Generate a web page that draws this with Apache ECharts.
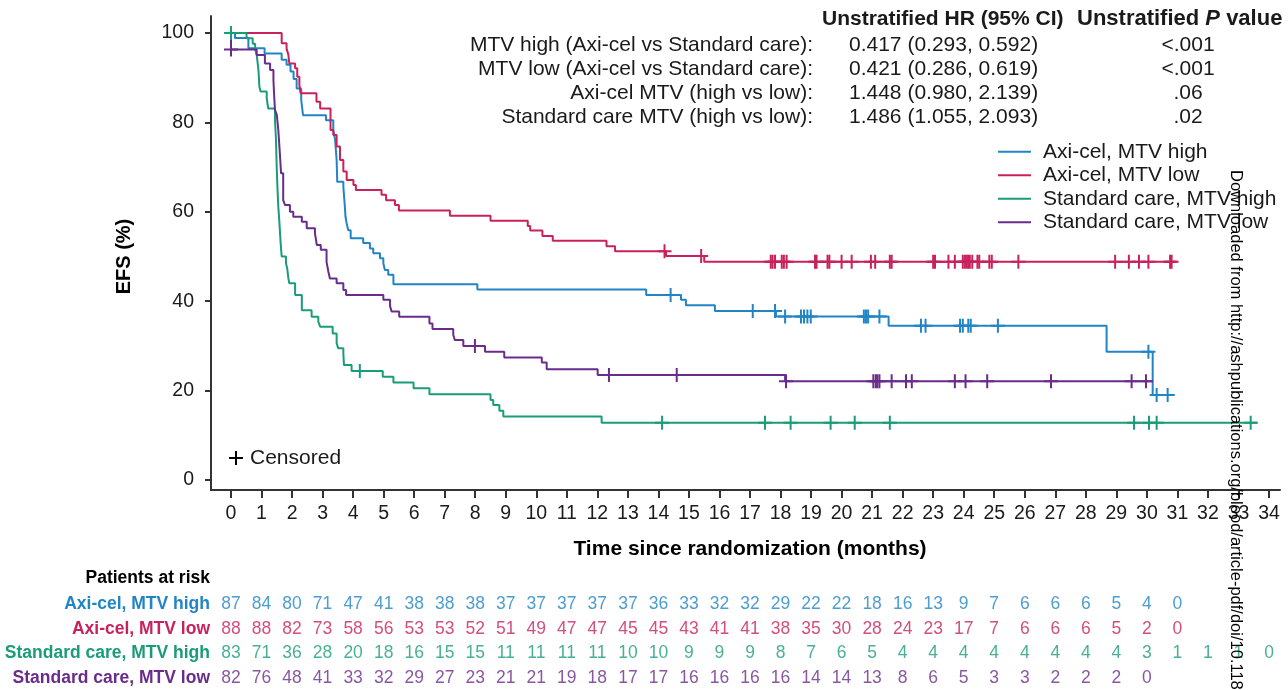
<!DOCTYPE html>
<html>
<head>
<meta charset="utf-8">
<script src="https://cdn.jsdelivr.net/npm/echarts@6/dist/echarts.min.js"></script>
<style>
  html, body { margin: 0; padding: 0; background: #fff; }
  #chart { width: 1288px; height: 690px; }
</style>
</head>
<body>
<div id="chart"></div>
<script>
// ---- Group names and colours ----
const groupNames = ['Axi-cel, MTV high', 'Axi-cel, MTV low', 'Standard care, MTV high', 'Standard care, MTV low'];
const groupColors = ['#2185c5', '#c8215d', '#1a9c79', '#6a2c8c'];

// ---- Kaplan-Meier steps: [month, EFS %] (value after each drop; last point = end of follow-up) ----
const axiHighSteps = [
  [0, 100], [0.13, 98.9], [0.57, 96.6], [1.1, 95.4], [1.66, 94.0], [1.82, 92.9], [1.95, 91.4],
  [2.05, 89.7], [2.15, 87.6], [2.3, 85.0], [2.36, 81.6], [3.11, 80.5], [3.35, 78.3], [3.41, 76.1],
  [3.46, 71.6], [3.48, 66.7], [3.68, 65.6], [3.73, 61.1], [3.75, 58.9], [3.79, 57.4], [3.84, 55.9],
  [3.92, 54.1], [4.33, 53.0], [4.55, 51.8], [4.66, 50.7], [4.88, 49.6], [4.99, 48.5], [5.04, 47.0],
  [5.15, 45.9], [5.32, 43.8], [8.07, 42.6], [13.6, 41.4], [14.74, 40.3], [14.9, 39.1], [15.85, 37.8],
  [17.85, 36.6], [21.54, 34.5], [28.68, 28.7], [30.19, 19.0], [30.9, 19.0]
];
const axiLowSteps = [
  [0, 100], [1.66, 97.7], [1.82, 96.5], [1.88, 95.1], [1.91, 93.2], [2.1, 92.1], [2.17, 90.2],
  [2.24, 88.4], [2.28, 86.5], [2.8, 84.6], [2.92, 83.1], [3.26, 78.3], [3.35, 77.2], [3.46, 74.6],
  [3.57, 71.6], [3.68, 69.0], [3.79, 67.1], [4.01, 66.0], [4.09, 64.9], [4.93, 63.8], [5.08, 62.6],
  [5.37, 61.5], [5.5, 60.3], [7.17, 59.1], [8.5, 58.0], [9.72, 56.8], [9.8, 55.8], [10.2, 54.6],
  [10.54, 53.5], [12.3, 52.3], [12.58, 51.2], [14.25, 50.1], [15.5, 48.8], [30.95, 48.8]
];
const socHighSteps = [
  [0, 100], [0.51, 98.8], [0.71, 97.6], [0.79, 96.4], [0.84, 95.2], [0.9, 91.7], [0.93, 88.0],
  [0.97, 86.9], [1.17, 85.4], [1.22, 83.1], [1.44, 80.5], [1.47, 76.8], [1.5, 69.4], [1.52, 65.6],
  [1.55, 61.1], [1.58, 58.2], [1.6, 55.9], [1.63, 52.6], [1.66, 50.0], [1.8, 48.5], [1.84, 47.4],
  [1.88, 45.1], [1.91, 44.0], [2.1, 41.4], [2.32, 38.0], [2.64, 36.5], [2.86, 35.4], [2.92, 34.3],
  [3.33, 32.8], [3.46, 30.6], [3.51, 29.5], [3.68, 28.3], [3.7, 25.7], [3.95, 24.4], [4.97, 23.1],
  [5.32, 21.8], [5.98, 20.5], [6.5, 19.2], [8.5, 17.9], [8.59, 16.8], [8.79, 15.5], [8.92, 14.2],
  [12.14, 12.8], [33.62, 12.8]
];
const socLowSteps = [
  [0, 100], [0, 96.3], [0.84, 95.1], [1.11, 93.2], [1.28, 91.7], [1.39, 89.5], [1.41, 86.5],
  [1.44, 82.8], [1.5, 81.7], [1.55, 78.3], [1.6, 73.1], [1.64, 68.6], [1.71, 62.6], [1.77, 61.5],
  [1.93, 60.0], [2.04, 58.9], [2.32, 57.8], [2.48, 56.3], [2.75, 55.2], [2.81, 52.6], [2.94, 51.5],
  [3.13, 48.8], [3.19, 46.6], [3.24, 45.1], [3.46, 44.0], [3.68, 42.5], [3.77, 41.4], [4.99, 40.3],
  [5.21, 38.9], [5.26, 37.7], [5.51, 36.5], [6.5, 35.0], [6.6, 33.8], [7.28, 32.5], [7.33, 31.3],
  [7.61, 30.0], [8.32, 28.7], [8.95, 27.4], [10.18, 26.3], [10.34, 24.8], [12.01, 23.5],
  [18.15, 22.1], [30.19, 22.1]
];

// ---- Censoring times (months) ----
const axiHighCensor = [14.4, 17.09, 17.82, 18.15, 18.67, 18.77, 18.88, 18.99, 20.73, 20.8, 20.87, 21.24,
  22.6, 22.75, 23.88, 23.97, 24.15, 24.23, 25.12, 30.05, 30.32, 30.68];
const axiLowCensor = [14.2, 15.4, 17.68, 17.74, 17.82, 18.04, 18.11, 18.2, 19.13, 19.18, 19.54, 19.6, 20.0,
  20.33, 20.96, 21.1, 21.58, 21.64, 23.0, 23.06, 23.5, 23.71, 23.97, 24.04, 24.1, 24.15, 24.2, 24.28,
  24.45, 24.51, 24.84, 24.92, 25.79, 28.96, 29.41, 29.74, 30.05, 30.76, 30.81];
const socHighCensor = [0, 4.22, 14.12, 17.49, 18.33, 19.64, 20.43, 21.58, 29.58, 30.07, 30.32, 33.4];
const socLowCensor = [0, 7.99, 12.38, 14.6, 18.18, 21.04, 21.12, 21.17, 21.24, 21.64, 22.11, 22.3, 23.71,
  24.06, 24.77, 26.86, 29.5, 29.97];

// ---- Patients at risk, one value per month from 0 ----
const axiHighAtRisk = [87, 84, 80, 71, 47, 41, 38, 38, 38, 37, 37, 37, 37, 37, 36, 33, 32, 32, 29, 22, 22, 18, 16, 13, 9, 7, 6, 6, 6, 5, 4, 0];
const axiLowAtRisk = [88, 88, 82, 73, 58, 56, 53, 53, 52, 51, 49, 47, 47, 45, 45, 43, 41, 41, 38, 35, 30, 28, 24, 23, 17, 7, 6, 6, 6, 5, 2, 0];
const socHighAtRisk = [83, 71, 36, 28, 20, 18, 16, 15, 15, 11, 11, 11, 11, 10, 10, 9, 9, 9, 8, 7, 6, 5, 4, 4, 4, 4, 4, 4, 4, 4, 3, 1, 1, 1, 0];
const socLowAtRisk = [82, 76, 48, 41, 33, 32, 29, 27, 23, 21, 21, 19, 18, 17, 17, 16, 16, 16, 16, 14, 14, 13, 8, 6, 5, 3, 3, 2, 2, 2, 0];

// ---- Hazard ratio summary ----
const hrLabels = ['MTV high (Axi-cel vs Standard care):', 'MTV low (Axi-cel vs Standard care):',
  'Axi-cel MTV (high vs low):', 'Standard care MTV (high vs low):'];
const hrValues = ['0.417 (0.293, 0.592)', '0.421 (0.286, 0.619)', '1.448 (0.980, 2.139)', '1.486 (1.055, 2.093)'];
const pValues = ['<.001', '<.001', '.06', '.02'];

// ---- Rendering ----
const FONT = '"Liberation Sans", Arial, Helvetica, sans-serif';
const INK = '#1a1a1a';
const AXIS = '#333';

const stepsList = [axiHighSteps, axiLowSteps, socHighSteps, socLowSteps];
const censorList = [axiHighCensor, axiLowCensor, socHighCensor, socLowCensor];
const atRiskList = [axiHighAtRisk, axiLowAtRisk, socHighAtRisk, socLowAtRisk];

// survival level in effect at time t (last step at or before t)
function survivalAt(steps, t) {
  let v = steps[0][1];
  for (const [x, y] of steps) { if (x <= t) v = y; }
  return v;
}

const PLUS = 'path://M6,0H8V6H14V8H8V14H6V8H0V6H6Z';

const series = [];
groupNames.forEach((name, i) => {
  series.push({
    name: name, type: 'line', step: 'end', xAxisIndex: 0, yAxisIndex: 0,
    data: stepsList[i], symbol: 'none', clip: false,
    lineStyle: { color: groupColors[i], width: 2 }, itemStyle: { color: groupColors[i] },
    emphasis: { disabled: true }, z: 3
  });
});
groupNames.forEach((name, i) => {
  series.push({
    name: name + ' (censored)', type: 'scatter', xAxisIndex: 0, yAxisIndex: 0,
    data: censorList[i].map(t => [t, survivalAt(stepsList[i], t)]),
    symbol: PLUS, symbolSize: 14, clip: false,
    itemStyle: { color: groupColors[i], opacity: 1 },
    emphasis: { disabled: true }, z: 4
  });
});
groupNames.forEach((name, i) => {
  series.push({
    name: name + ' (at risk)', type: 'scatter', xAxisIndex: 2, yAxisIndex: 2,
    data: atRiskList[i].map((n, m) => [m, name, n]),
    symbolSize: 1, itemStyle: { color: 'rgba(0,0,0,0)' },
    label: {
      show: true, position: 'inside', formatter: p => String(p.value[2]),
      color: groupColors[i], fontSize: 17.5, fontFamily: FONT
    },
    emphasis: { disabled: true }, silent: true
  });
});

const rowRich = {};
groupColors.forEach((c, i) => {
  rowRich['r' + i] = { color: c, fontWeight: 'bold', fontSize: 17.5, fontFamily: FONT };
});

const graphics = [];
// panel letter
graphics.push({ type: 'text', left: 2, top: -16, style: { text: 'A', font: 'bold 21px ' + FONT, fill: INK } });
// HR table header
graphics.push({ type: 'text', x: 822, y: 19, style: { text: 'Unstratified HR (95% CI)', font: 'bold 21px ' + FONT, fill: INK, textVerticalAlign: 'middle' } });
graphics.push({ type: 'text', x: 1077, y: 19, style: {
  text: '{b|Unstratified }{bi|P}{b| value}', textVerticalAlign: 'middle',
  rich: {
    b: { font: 'bold 22px ' + FONT, fill: INK },
    bi: { font: 'italic bold 22px ' + FONT, fill: INK }
  }
} });
hrLabels.forEach((t, i) => {
  const y = 45 + i * 24;
  graphics.push({ type: 'text', x: 813, y: y, style: { text: t, font: '21px ' + FONT, fill: INK, textAlign: 'right', textVerticalAlign: 'middle' } });
  graphics.push({ type: 'text', x: 849, y: y, style: { text: hrValues[i], font: '21px ' + FONT, fill: INK, textAlign: 'left', textVerticalAlign: 'middle' } });
  graphics.push({ type: 'text', x: 1188, y: y, style: { text: pValues[i], font: '21px ' + FONT, fill: INK, textAlign: 'center', textVerticalAlign: 'middle' } });
});
// censored key
graphics.push({ type: 'line', shape: { x1: 229, y1: 458, x2: 243, y2: 458 }, style: { stroke: '#000', lineWidth: 2 } });
graphics.push({ type: 'line', shape: { x1: 236, y1: 451, x2: 236, y2: 465 }, style: { stroke: '#000', lineWidth: 2 } });
graphics.push({ type: 'text', x: 250, y: 458, style: { text: 'Censored', font: '21px ' + FONT, fill: INK, textVerticalAlign: 'middle' } });
// at-risk heading
graphics.push({ type: 'text', x: 210, y: 578, style: { text: 'Patients at risk', font: 'bold 17.5px ' + FONT, fill: '#000', textAlign: 'right', textVerticalAlign: 'middle' } });
// download stamp along the right edge
graphics.push({ type: 'text', x: 1236, y: 170, rotation: -Math.PI / 2, z: 100, style: {
  text: 'Downloaded from http://ashpublications.org/blood/article-pdf/doi/10.1182/',
  font: '16.5px ' + FONT, fill: '#000', textAlign: 'left', textVerticalAlign: 'middle'
} });

const option = {
  backgroundColor: '#fff',
  animation: false,
  textStyle: { fontFamily: FONT },
  grid: [
    { left: 231, right: 19, top: 33, bottom: 210 },
    { left: 211, right: 8, top: 16, bottom: 200 },
    { left: 231, right: 19, top: 592, height: 103 }
  ],
  xAxis: [
    {
      gridIndex: 0, type: 'value', min: 0, max: 34, interval: 1, offset: 10,
      axisLine: { show: false, onZero: false },
      axisTick: { show: true, length: 8, lineStyle: { color: AXIS, width: 2 } },
      axisLabel: { fontSize: 19.5, color: INK, margin: 14, fontFamily: FONT },
      splitLine: { show: false },
      name: 'Time since randomization (months)', nameLocation: 'middle', nameGap: 49,
      nameTextStyle: { fontSize: 21, fontWeight: 'bold', color: '#000', fontFamily: FONT }
    },
    {
      gridIndex: 1, type: 'value', min: 0, max: 1,
      axisLine: { show: true, onZero: false, lineStyle: { color: AXIS, width: 2 } },
      axisTick: { show: false }, axisLabel: { show: false }, splitLine: { show: false }
    },
    { gridIndex: 2, type: 'value', min: 0, max: 34, show: false }
  ],
  yAxis: [
    {
      gridIndex: 0, type: 'value', min: 0, max: 100, interval: 20, offset: 20,
      axisLine: { show: false, onZero: false },
      axisTick: { show: true, length: 6, lineStyle: { color: AXIS, width: 2 } },
      axisLabel: { fontSize: 19.5, color: INK, margin: 17, fontFamily: FONT },
      splitLine: { show: false },
      name: 'EFS (%)', nameLocation: 'middle', nameGap: 77, nameRotate: 90,
      nameTextStyle: { fontSize: 20, fontWeight: 'bold', color: '#000', fontFamily: FONT }
    },
    {
      gridIndex: 1, type: 'value', min: 0, max: 1,
      axisLine: { show: true, onZero: false, lineStyle: { color: AXIS, width: 2 } },
      axisTick: { show: false }, axisLabel: { show: false }, splitLine: { show: false }
    },
    {
      gridIndex: 2, type: 'category', data: groupNames, inverse: true,
      axisLine: { show: false }, axisTick: { show: false }, splitLine: { show: false },
      axisLabel: {
        margin: 21, formatter: (v, i) => '{r' + i + '|' + v + '}', rich: rowRich
      }
    }
  ],
  legend: {
    data: groupNames, orient: 'vertical', left: 998, top: 141, padding: 0,
    icon: 'rect', itemWidth: 33, itemHeight: 2, itemGap: 2, selectedMode: false,
    textStyle: { fontSize: 21, lineHeight: 21.5, color: INK, fontFamily: FONT, padding: [0, 0, 0, 7] }
  },
  graphic: graphics,
  series: series
};

const chart = echarts.init(document.getElementById('chart'), null, { renderer: 'canvas' });
chart.setOption(option);
</script>
</body>
</html>
